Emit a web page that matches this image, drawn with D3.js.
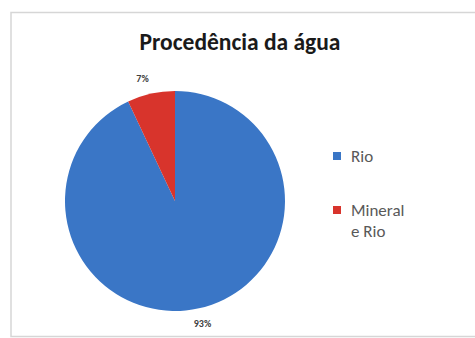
<!DOCTYPE html>
<html>
<head>
<meta charset="utf-8">
<script src="https://cdn.jsdelivr.net/npm/d3@7"></script>
<style>
  body { margin: 0; background: #fff; }
  svg { display: block; }
  text { font-family: Carlito, Calibri, "Open Sans", "Liberation Sans", sans-serif; }
</style>
</head>
<body>
<svg id="svg" width="475" height="338"></svg>
<script>
// chart data
var categories = ["Rio", "Mineral e Rio"];
var values = [93, 7];
var percentLabels = ["93%", "7%"];
var colors = ["#3a76c6", "#d8342c"];

var svg = d3.select("#svg");

// chart frame
svg.append("rect")
    .attr("x", 11)
    .attr("y", 12.5)
    .attr("width", 480)
    .attr("height", 324)
    .attr("fill", "#fff")
    .attr("stroke", "#d6d6d6")
    .attr("stroke-width", 1.5);

svg.append("text")
    .text("Procedência da água")
    .attr("x", 240)
    .attr("y", 50)
    .attr("text-anchor", "middle")
    .attr("font-size", "23.5px")
    .attr("font-weight", "bold")
    .attr("fill", "#1a1a1a");

var cx = 175, cy = 201, r = 110;

var pie = d3.pie().sort(null).value(function(d) { return d; });
var arcs = pie(values);
var arc = d3.arc().innerRadius(0).outerRadius(r);

var g = svg.append("g").attr("transform", "translate(" + cx + "," + cy + ")");

g.selectAll("path")
    .data(arcs)
    .enter()
    .append("path")
    .attr("d", arc)
    .attr("fill", function(d, i) { return colors[i]; });

// percentage labels just outside the slices
var labelArc = d3.arc().innerRadius(r + 16).outerRadius(r + 16);
g.selectAll("text")
    .data(arcs)
    .enter()
    .append("text")
    .text(function(d, i) { return percentLabels[i]; })
    .attr("x", function(d) { return labelArc.centroid(d)[0] - (d.index === 1 ? 5 : 0); })
    .attr("y", function(d) { return labelArc.centroid(d)[1] + 3.5; })
    .attr("text-anchor", "middle")
    .attr("font-size", "10px")
    .attr("font-weight", "bold")
    .attr("fill", "#404040");

// legend
var legendY = d3.scalePoint().domain(categories).range([156, 210]);
var legend = svg.selectAll(".legend")
    .data(categories)
    .enter()
    .append("g")
    .attr("class", "legend")
    .attr("transform", function(d) { return "translate(333," + legendY(d) + ")"; });

legend.append("rect")
    .attr("x", 0)
    .attr("y", -4)
    .attr("width", 8)
    .attr("height", 8)
    .attr("fill", function(d, i) { return colors[i]; });

legend.append("text")
    .attr("x", 18)
    .attr("y", 6)
    .attr("font-size", "17px")
    .attr("fill", "#595959")
    .each(function(d) {
        var words = d === "Mineral e Rio" ? ["Mineral", "e Rio"] : [d];
        var t = d3.select(this);
        words.forEach(function(w, k) {
            t.append("tspan").attr("x", 18).attr("dy", k === 0 ? 0 : 21).text(w);
        });
    });
</script>
</body>
</html>
